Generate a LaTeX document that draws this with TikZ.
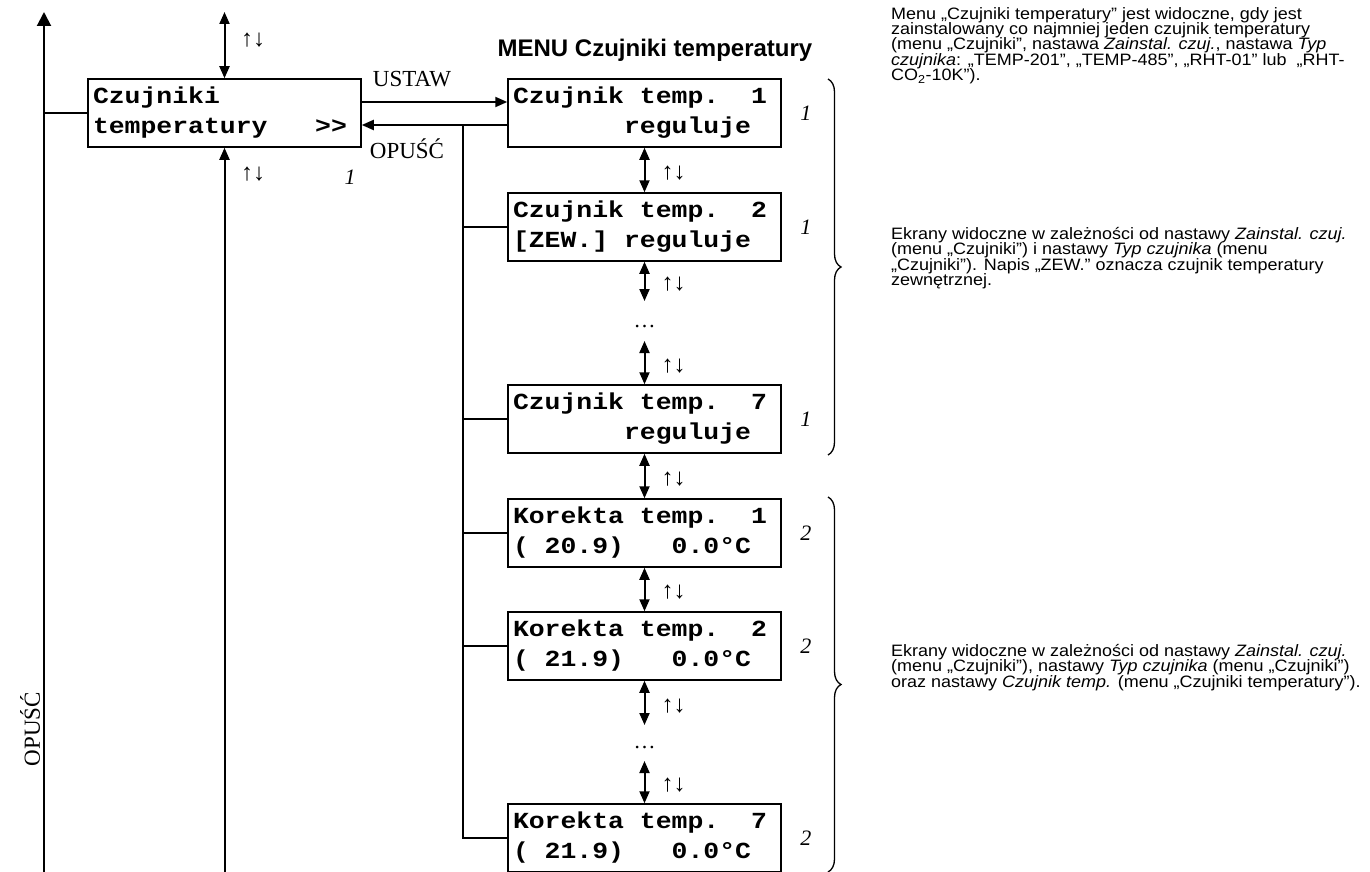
\documentclass[tikz,border=0pt]{standalone}
\usepackage{fontspec}
\setmainfont{Liberation Serif}
\setsansfont{Liberation Sans}
\setmonofont{Liberation Mono}
\newfontfamily\lcdfont[FakeStretch=1.15]{Liberation Mono}
\newfontfamily\notefont[FakeStretch=1.09]{Liberation Sans}
\usetikzlibrary{arrows.meta,decorations.pathreplacing}
\newcommand{\ks}{\phantom{0}}
\tikzset{
  lcd/.style={draw, line width=1.5pt, font=\lcdfont\bfseries\fontsize{23}{30}\selectfont,
    minimum width=273pt, minimum height=68pt, inner xsep=5pt, inner ysep=0pt, text width=263pt, align=left},
  arr/.style={line width=2pt, -{Triangle[length=12pt,width=10pt]}},
  darr/.style={line width=2pt, {Triangle[length=12pt,width=10pt]}-{Triangle[length=12pt,width=10pt]}},
  bigarr/.style={line width=2pt, -{Triangle[length=14pt,width=14pt]}},
  thinline/.style={line width=1.3pt},
  busline/.style={line width=1.6pt},
  updn/.style={font=\fontsize{24}{28}\selectfont, inner sep=0pt},
  idx/.style={font=\itshape\fontsize{22}{26}\selectfont, inner sep=0pt},
  lbl/.style={font=\fontsize{23}{27}\selectfont, inner sep=0pt},
  ttl/.style={font=\sffamily\bfseries\fontsize{24}{28}\selectfont, inner sep=0pt},
  note/.style={font=\notefont\fontsize{16.5}{15.4}\selectfont, align=left, anchor=north west, inner sep=0pt},
  dots/.style={font=\fontsize{22}{26}\selectfont, inner sep=0pt, anchor=base},
  brc/.style={decorate, decoration={brace, amplitude=13pt}, line width=1.3pt},
}
\begin{document}
\begin{tikzpicture}[x=1pt,y=-1pt]
\useasboundingbox (0,0) rectangle (1370,872);

% boxes
\node[lcd] (main) at (224.5,113) {Czujniki\\temperatury\ks\ks\ks>>};
\node[lcd] (c1) at (644.5,113) {Czujnik\ks temp.\ks\ks 1\\\ks\ks\ks\ks\ks\ks\ks reguluje};
\node[lcd] (c2) at (644.5,227) {Czujnik\ks temp.\ks\ks 2\\{[}ZEW.]\ks reguluje};
\node[lcd] (c3) at (644.5,419) {Czujnik\ks temp.\ks\ks 7\\\ks\ks\ks\ks\ks\ks\ks reguluje};
\node[lcd] (k1) at (644.5,533) {Korekta\ks temp.\ks\ks 1\\(\ks 20.9)\ks\ks\ks 0.0°C};
\node[lcd] (k2) at (644.5,646) {Korekta\ks temp.\ks\ks 2\\(\ks 21.9)\ks\ks\ks 0.0°C};
\node[lcd] (k7) at (644.5,838) {Korekta\ks temp.\ks\ks 7\\(\ks 21.9)\ks\ks\ks 0.0°C};

\node[ttl] (title) at (655,50) {MENU Czujniki temperatury};

% left column
\coordinate (ltop) at (44,12);
\coordinate (lbot) at (44,872);
\coordinate (utop) at (224.5,12);
\coordinate (ubot) at (224.5,872);
\draw[bigarr] (lbot) -- (ltop);
\draw[thinline] (main.west) -- (main.west -| ltop);
\node[lbl, rotate=90] (opv) at (30,729) {OPUŚĆ};
\draw[darr] (utop) -- (main.north);
\node[updn] (ud0) at (253,40) {↑↓};
\draw[arr] (ubot) -- (main.south);
\node[updn] (ud1) at (253,174) {↑↓};
\node[idx] (i0) at (350,177) {1};

% USTAW / OPUSC
\draw[arr] ([yshift=11pt]main.east) -- ([yshift=11pt]c1.west);
\node[lbl] (ustaw) at (412,79) {USTAW};
\draw[arr] ([yshift=-12pt]c1.west) -- ([yshift=-12pt]main.east);
\node[lbl] (opusc) at (407,149) {OPUŚĆ};

% bus
\coordinate (bus) at (463,125);
\draw[busline] (bus) |- (k7.west);
\foreach \n in {c2,c3,k1,k2} \draw[thinline] (\n.west) -- (\n.west -| bus);

% vertical arrows
\coordinate (d1a) at (644.5,301);
\coordinate (d1b) at (644.5,341);
\coordinate (d2a) at (644.5,725);
\coordinate (d2b) at (644.5,761);
\draw[darr] (c1.south) -- (c2.north) node[midway, updn, anchor=west, xshift=16pt, yshift=-3pt] (u1) {↑↓};
\draw[darr] (c2.south) -- (d1a) node[midway, updn, anchor=west, xshift=16pt, yshift=-3pt] (u2) {↑↓};
\node[dots] (dots1) at (644.5,327) {…};
\draw[darr] (d1b) -- (c3.north) node[midway, updn, anchor=west, xshift=16pt, yshift=-3pt] (u3) {↑↓};
\draw[darr] (c3.south) -- (k1.north) node[midway, updn, anchor=west, xshift=16pt, yshift=-3pt] (u4) {↑↓};
\draw[darr] (k1.south) -- (k2.north) node[midway, updn, anchor=west, xshift=16pt, yshift=-3pt] (u5) {↑↓};
\draw[darr] (k2.south) -- (d2a) node[midway, updn, anchor=west, xshift=16pt, yshift=-3pt] (u6) {↑↓};
\node[dots] (dots2) at (644.5,748) {…};
\draw[darr] (d2b) -- (k7.north) node[midway, updn, anchor=west, xshift=16pt, yshift=-3pt] (u7) {↑↓};

% indices
\node[idx] (ic1) at ([xshift=24pt]c1.east) {1};
\node[idx] (ic2) at ([xshift=24pt]c2.east) {1};
\node[idx] (ic3) at ([xshift=24pt]c3.east) {1};
\node[idx] (ik1) at ([xshift=24pt]k1.east) {2};
\node[idx] (ik2) at ([xshift=24pt]k2.east) {2};
\node[idx] (ik7) at ([xshift=24pt]k7.east) {2};

% braces
\coordinate (b1a) at (828,79);
\coordinate (b1b) at (828,455);
\coordinate (b2a) at (828,497);
\coordinate (b2b) at (828,872);
\draw[brc] (b1a) -- (b1b);
\draw[brc] (b2a) -- (b2b);

% notes
\node[note] (n1) at (891,7) {Menu „Czujniki temperatury” jest widoczne, gdy jest\\
zainstalowany co najmniej jeden czujnik temperatury\\
(menu „Czujniki”, nastawa \textit{Zainstal. czuj.}, nastawa \textit{Typ}\\
\textit{czujnika}: „TEMP-201”, „TEMP-485”, „RHT-01” lub~ „RHT-\\
CO\textsubscript{2}-10K”).};
\node[note] (n2) at (891,227) {Ekrany widoczne w zależności od nastawy \textit{Zainstal. czuj.}\\
(menu „Czujniki”) i nastawy \textit{Typ czujnika} (menu\\
„Czujniki”). Napis „ZEW.” oznacza czujnik temperatury\\
zewnętrznej.};
\node[note] (n3) at (891,644) {Ekrany widoczne w zależności od nastawy \textit{Zainstal. czuj.}\\
(menu „Czujniki”), nastawy \textit{Typ czujnika} (menu „Czujniki”)\\
oraz nastawy \textit{Czujnik temp.} (menu „Czujniki temperatury”).};
\end{tikzpicture}
\end{document}
